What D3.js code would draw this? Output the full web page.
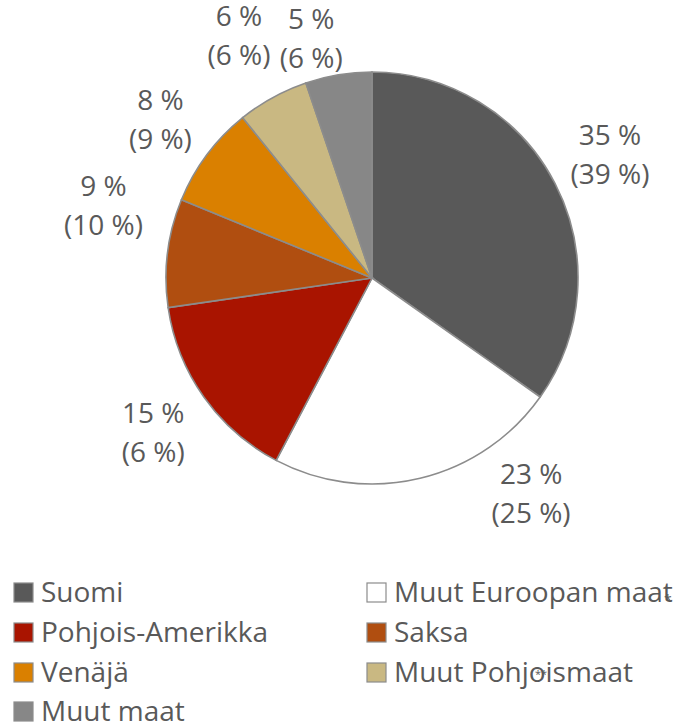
<!DOCTYPE html>
<html>
<head>
<meta charset="utf-8">
<script src="https://cdn.jsdelivr.net/npm/d3@7"></script>
<style>
  body { margin: 0; background: #fff; }
  text { font-family: "Open Sans", "DejaVu Sans", sans-serif; fill: #595959; }
</style>
</head>
<body>
<div class="chart"></div>
<script>
// slice order: clockwise from 12 o'clock
const categories = ["Suomi", "Muut Euroopan maat", "Pohjois-Amerikka", "Saksa", "Venäjä", "Muut Pohjoismaat", "Muut maat"];
const shares = [34.8, 22.9, 15.0, 8.5, 8.0, 5.6, 5.2];
const labelNow = ["35 %", "23 %", "15 %", "9 %", "8 %", "6 %", "5 %"];
const labelPrev = ["(39 %)", "(25 %)", "(6 %)", "(10 %)", "(9 %)", "(6 %)", "(6 %)"];
const colors = ["#595959", "#ffffff", "#a91400", "#b04e10", "#da8000", "#c9b882", "#878787"];
const footnotes = {"Muut Euroopan maat": "*", "Muut Pohjoismaat": "**"};
// legend reading order (two columns, row by row)
const legendOrder = ["Suomi", "Muut Euroopan maat", "Pohjois-Amerikka", "Saksa", "Venäjä", "Muut Pohjoismaat", "Muut maat"];

var width = 675, height = 728;
var cx = 372, cy = 278, radius = 206;

var svg = d3.select(".chart").append("svg")
    .attr("width", width)
    .attr("height", height);

var data = categories.map(function(c, i) {
    return {name: c, value: shares[i], now: labelNow[i], prev: labelPrev[i], color: colors[i]};
});

var pie = d3.pie().sort(null).value(function(d) { return d.value; });
var arcs = pie(data);

var arc = d3.arc().innerRadius(0).outerRadius(radius);

var g = svg.append("g").attr("transform", `translate(${cx},${cy})`);

g.selectAll("path")
    .data(arcs)
    .enter()
    .append("path")
    .attr("d", arc)
    .style("fill", function(d) { return d.data.color; })
    .style("stroke", "#8c8c8c")
    .style("stroke-width", 1.6);

// labels sit outside the pie, Excel "best fit" pushes some of them around
var angleNudge = {"Muut Euroopan maat": -0.4, "Saksa": 0.14, "Muut maat": -0.085};
var radiusNudge = {"Saksa": 10, "Muut Pohjoismaat": 8, "Muut maat": -21, "Venäjä": -4};
function labelPos(d) {
    var a = (d.startAngle + d.endAngle) / 2 + (angleNudge[d.data.name] || 0);
    var r = 268 + (radiusNudge[d.data.name] || 0);
    return [Math.sin(a) * r, -Math.cos(a) * r];
}

var labels = g.append("g").attr("class", "labels");

labels.selectAll("text.now")
    .data(arcs)
    .join("text")
    .attr("class", "now")
    .attr("text-anchor", "middle")
    .attr("x", function(d) { return labelPos(d)[0]; })
    .attr("y", function(d) { return labelPos(d)[1] - 10; })
    .style("font-size", "28px")
    .text(function(d) { return d.data.now; });

labels.selectAll("text.prev")
    .data(arcs)
    .join("text")
    .attr("class", "prev")
    .attr("text-anchor", "middle")
    .attr("x", function(d) { return labelPos(d)[0]; })
    .attr("y", function(d) { return labelPos(d)[1] + 29; })
    .style("font-size", "28px")
    .text(function(d) { return d.data.prev; });

// legend
var legend = svg.append("g");
var colX = [13, 366], rowY = [592, 632, 672, 711];

var item = legend.selectAll(".item")
    .data(legendOrder)
    .enter()
    .append("g")
    .attr("class", "item")
    .attr("transform", function(d, i) { return `translate(${colX[i % 2]},${rowY[Math.floor(i / 2)]})`; });

item.append("rect")
    .attr("x", 1)
    .attr("y", -9)
    .attr("width", 19)
    .attr("height", 19)
    .style("fill", function(d) { return colors[categories.indexOf(d)]; })
    .style("stroke", "#8c8c8c")
    .style("stroke-width", 1.2);

item.append("text")
    .attr("x", 28)
    .attr("y", 10)
    .style("font-size", "28px")
    .text(function(d) { return d; });

// tiny footnote marks
item.filter(function(d) { return footnotes[d] == "*"; })
    .append("text")
    .attr("x", 298)
    .attr("y", 13)
    .style("font-size", "14px")
    .text("*");

item.filter(function(d) { return footnotes[d] == "**"; })
    .append("text")
    .attr("x", 169)
    .attr("y", 6)
    .style("font-size", "11px")
    .text("**");
</script>
</body>
</html>
